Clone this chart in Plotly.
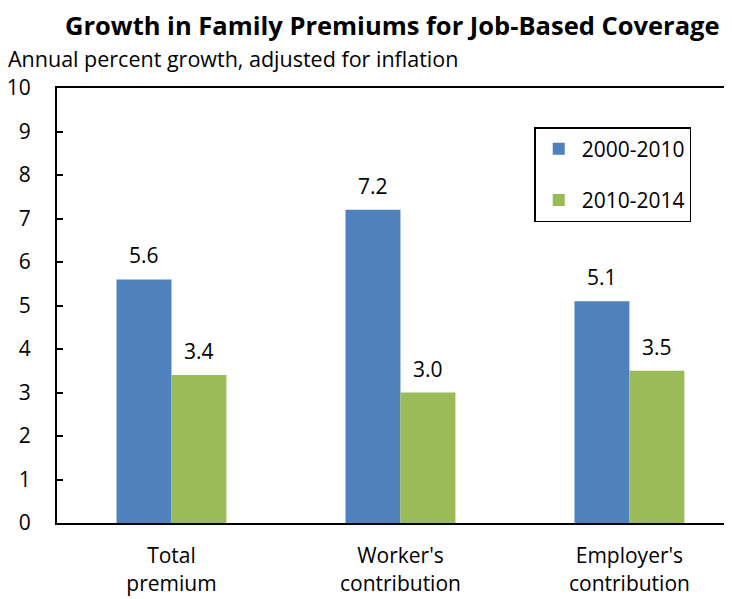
import plotly.graph_objects as go

categories = ["Total<br>premium", "Worker's<br>contribution", "Employer's<br>contribution"]
series_names = ["2000-2010", "2010-2014"]
values_2000_2010 = [5.6, 7.2, 5.1]
values_2010_2014 = [3.4, 3.0, 3.5]
colors = ["#4F81BD", "#9BBB59"]
y_ticks = list(range(0, 11))

FONT = "Open Sans"
FS = 21
bargap = 0.52
bar_w = (1 - bargap) / 2

fig = go.Figure()
for i, (name, vals) in enumerate(zip(series_names, [values_2000_2010, values_2010_2014])):
    fig.add_trace(go.Bar(
        x=categories, y=vals, name=name, marker=dict(color=colors[i], line=dict(width=0)),
        legendgroup=name,
    ))
    off = (i - 0.5) * bar_w
    for j, v in enumerate(vals):
        fig.add_annotation(x=j + off, y=v, xref="x", yref="y", text=f"{v:.1f}",
                           showarrow=False, yshift=24, font=dict(size=FS, color="black", family=FONT))

fig.update_layout(
    width=724, height=591,
    margin=dict(l=49, r=0, t=80, b=76, autoexpand=False),
    paper_bgcolor="white", plot_bgcolor="white",
    barmode="group", bargap=bargap, bargroupgap=0,
    font=dict(family=FONT, size=FS, color="black"),
    showlegend=True,
    legend=dict(x=0.707, y=0.91, xanchor="left", yanchor="top",
                bordercolor="black", borderwidth=1.5, bgcolor="white",
                font=dict(size=FS, family=FONT), tracegroupgap=21,
                itemwidth=36),
    xaxis=dict(range=[-0.5, 2.448], showline=True, linecolor="black", linewidth=2,
               mirror=True, ticks="", showgrid=False, tickfont=dict(size=FS),
               ticklabelstandoff=13, automargin=False),
    yaxis=dict(range=[0, 10], tickvals=y_ticks, showline=True, linecolor="black",
               linewidth=2, ticks="inside", ticklen=6, tickwidth=1.5, tickcolor="black",
               showgrid=False, zeroline=False, tickfont=dict(size=FS),
               ticklabelstandoff=20, automargin=False),
    annotations=list(fig.layout.annotations) + [
        dict(text="<b>Growth in Family Premiums for Job-Based Coverage</b>", xref="paper", yref="paper",
             x=0.497, y=1, yshift=63, xanchor="center", yanchor="middle", showarrow=False,
             font=dict(size=25.5, family=FONT)),
        dict(text="Annual percent growth, adjusted for inflation", xref="paper", yref="paper",
             x=-0.0758, y=1, yshift=30, xanchor="left", yanchor="middle", showarrow=False,
             font=dict(size=21.5, family=FONT)),
    ],
)

fig.write_html("out.html")
